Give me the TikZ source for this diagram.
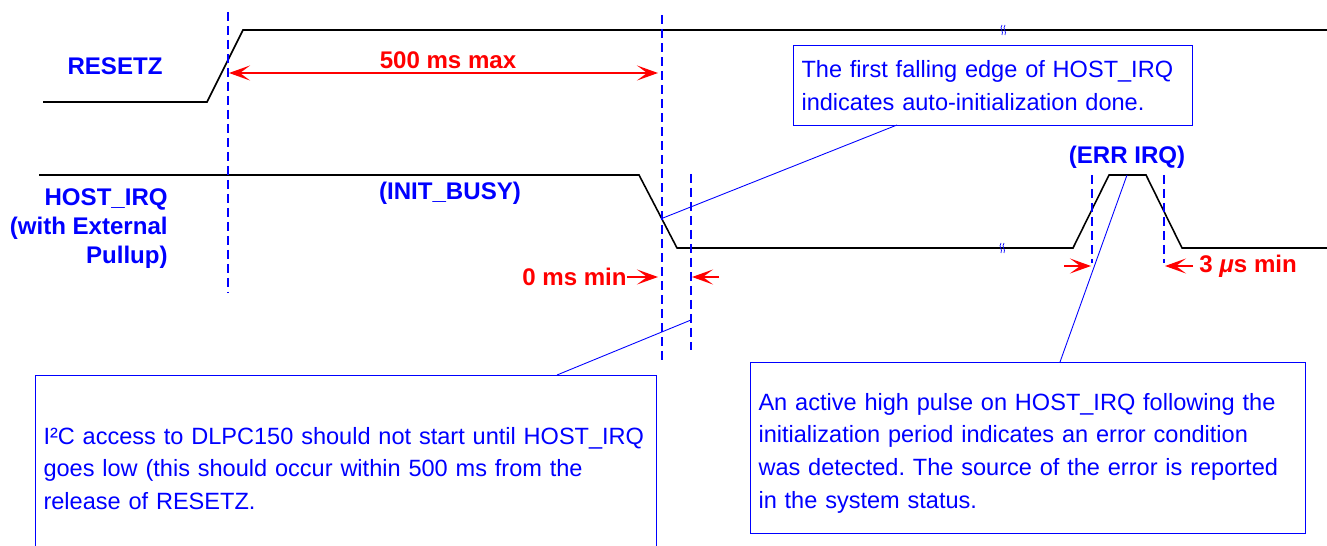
\documentclass[tikz,border=0pt]{standalone}
\usepackage{fontspec}
\setmainfont{Liberation Sans}
\usetikzlibrary{arrows.meta}
\tikzset{
  wave/.style={line width=0.9pt},
  guide/.style={blue, line width=1.1pt, dash pattern=on 0.19cm off 0.09cm},
  span/.style={red, line width=1pt},
  tip/.tip={Stealth[length=0.42cm, width=0.3cm, inset=0.2cm]},
  tag/.style={blue, font=\fontsize{13.7}{16.5}\selectfont\bfseries},
  dim/.style={red, font=\fontsize{13.7}{16.5}\selectfont\bfseries},
  note/.style={draw=blue, line width=0.6pt, text=blue, align=left, inner xsep=0.16cm,
    anchor=north west, font=\fontsize{13.4}{18.6}\selectfont},
  lead/.style={blue, line width=0.5pt},
  brk/.style={blue, line width=0.4pt}
}
\newcommand{\breakmark}[1]{%
  \draw[brk] ($(#1)+(-1,-5)$) .. controls ($(#1)+(-4,-1)$) and ($(#1)+(1,1)$) .. ($(#1)+(-1,5)$);
  \draw[brk] ($(#1)+(2,-5)$) .. controls ($(#1)+(-1,-1)$) and ($(#1)+(4,1)$) .. ($(#1)+(2,5)$);}
\usetikzlibrary{calc}
\frenchspacing

\begin{document}
\begin{tikzpicture}[x=0.02cm, y=-0.02cm]
\useasboundingbox (0,0) rectangle (1327,546);

  % RESETZ
  \coordinate (r0) at (43,102);
  \coordinate (r1) at (207,102);
  \coordinate (r2) at (243,30);
  \coordinate (r3) at (1327,30);
  \draw[wave] (r0)--(r1)--(r2)--(r3);
  \coordinate (rb) at (1003,30);
  \breakmark{rb}
  \draw node[tag] (resetz) at (115,66) {RESETZ};

  % HOST_IRQ
  \coordinate (h0) at (39,175);
  \coordinate (h1) at (639,175);
  \coordinate (h2) at (677,248);
  \coordinate (h3) at (1073,248);
  \coordinate (h4) at (1109,175);
  \coordinate (h5) at (1146,175);
  \coordinate (h6) at (1182,248);
  \coordinate (h7) at (1327,248);
  \draw[wave] (h0)--(h1)--(h2)--(h3)--(h4)--(h5)--(h6)--(h7);
  \coordinate (hb) at (1002,248);
  \breakmark{hb}
  \draw node[tag, align=right, anchor=north east, inner sep=0pt] (host) at (168,188)
    {HOST\_IRQ\\(with External\\Pullup)};
  \draw node[tag] (busy) at (450,193) {(INIT\_BUSY)};
  \draw node[tag] (err) at (1127,157) {(ERR IRQ)};

  % guides
  \coordinate (g1a) at (228,12);
  \coordinate (g1b) at (228,292);
  \coordinate (g2a) at (662,15);
  \coordinate (g2b) at (662,364);
  \coordinate (g3a) at (691,174);
  \coordinate (g3b) at (691,350);
  \coordinate (g4a) at (1092,175);
  \coordinate (g4b) at (1092,263);
  \coordinate (g5a) at (1164,175);
  \coordinate (g5b) at (1164,263);
  \draw[guide] (g1a)--(g1b);
  \draw[guide] (g2a)--(g2b);
  \draw[guide] (g3a)--(g3b);
  \draw[guide] (g4a)--(g4b);
  \draw[guide] (g5a)--(g5b);

  % timings
  \coordinate (m1) at (229,73);
  \coordinate (m2) at (658,73);
  \draw[span, tip-tip] (m1)--(m2);
  \draw node[dim] (max) at (448,60) {500 ms max};

  \draw node[dim, anchor=east, inner sep=0pt] (zmin) at (627,277) {0 ms min};
  \coordinate (z1) at (658,277);
  \coordinate (z2) at (719,277);
  \coordinate (z3) at (692,277);
  \draw[span, -tip] (zmin.east)--(z1);
  \draw[span, -tip] (z2)--(z3);

  \coordinate (e1) at (1064,266);
  \coordinate (e2) at (1091,266);
  \coordinate (e3) at (1165,266);
  \draw node[dim, anchor=west, inner sep=0pt] (umin) at (1199,266) {3 \textit{μ}s min};
  \draw[span, -tip] (e1)--(e2);
  \draw[span, -tip] ($(umin.west)+(-6,0)$)--(e3);

  % notes
  \draw node[note, minimum width=7.98cm, minimum height=1.6cm, text width=7.66cm] (fall) at (793,45)
    {The first falling edge of HOST\_IRQ\\indicates auto-initialization done.};
  \draw node[note, minimum width=12.42cm, minimum height=3.72cm, text width=12.1cm] (i2c) at (35,375)
    {I²C access to DLPC150 should not start until HOST\_IRQ\\goes low (this should occur within 500 ms from the\\release of RESETZ.};
  \draw node[note, minimum width=11.1cm, minimum height=3.42cm, text width=10.78cm] (pulse) at (750,362)
    {\rule{0pt}{15.5pt}An active high pulse on HOST\_IRQ following the\\initialization period indicates an error condition\\was detected. The source of the error is reported\\in the system status.};

  \coordinate (l1a) at (663,218);
  \coordinate (l1b) at (897,125);
  \coordinate (l2a) at (691,320);
  \coordinate (l2b) at (557,375);
  \coordinate (l3a) at (1127,175);
  \coordinate (l3b) at (1060,362);
  \draw[lead] (l1a)--(l1b);
  \draw[lead] (l2a)--(l2b);
  \draw[lead] (l3a)--(l3b);

\end{tikzpicture}
\end{document}
